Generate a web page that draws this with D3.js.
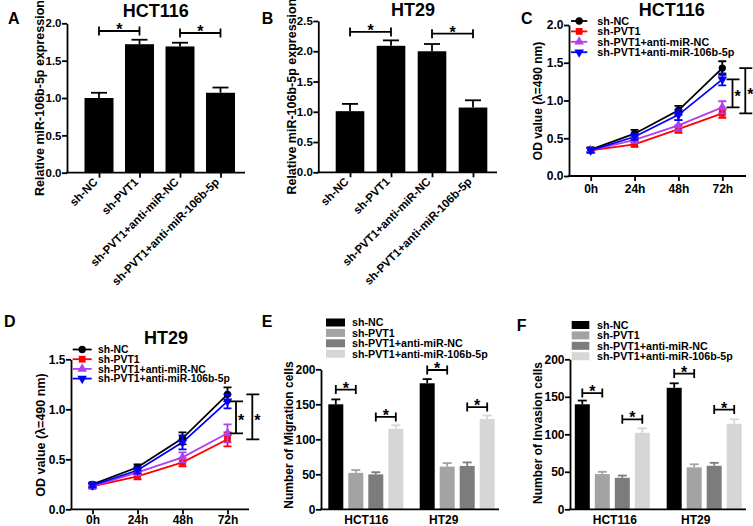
<!DOCTYPE html>
<html><head><meta charset="utf-8">
<script src="https://cdn.jsdelivr.net/npm/d3@7"></script>
<style>
body{margin:0;background:#fff}
svg{display:block}
text{font-family:Arial,"Liberation Sans",sans-serif;font-weight:bold;fill:#000}
</style>
</head><body>
<svg id="fig" width="753" height="526"></svg>
<script>
// ---------------- DATA ----------------
const barCats = ["sh-NC","sh-PVT1","sh-PVT1+anti-miR-NC","sh-PVT1+anti-miR-106b-5p"];
const hctExpr = [1.00, 1.72, 1.69, 1.07];
const hctExprErr = [0.07, 0.06, 0.05, 0.07];
const ht29Expr = [1.01, 2.09, 2.00, 1.07];
const ht29ExprErr = [0.12, 0.09, 0.12, 0.12];
const exprTicksA = [0, 0.5, 1.0, 1.5, 2.0];
const exprTicksB = [0, 0.5, 1.0, 1.5, 2.0, 2.5];

const timePoints = ["0h","24h","48h","72h"];
const hctOD_NC     = [0.35, 0.56, 0.87, 1.43];
const hctOD_NC_err = [0.03, 0.05, 0.06, 0.09];
const hctOD_PVT1     = [0.34, 0.42, 0.62, 0.83];
const hctOD_PVT1_err = [0.03, 0.03, 0.05, 0.06];
const hctOD_aNC     = [0.34, 0.48, 0.67, 0.91];
const hctOD_aNC_err = [0.03, 0.04, 0.07, 0.08];
const hctOD_a106     = [0.34, 0.52, 0.81, 1.28];
const hctOD_a106_err = [0.03, 0.04, 0.07, 0.08];
const odTicksC = [0, 0.5, 1.0, 1.5, 2.0];

const ht29OD_NC     = [0.25, 0.42, 0.71, 1.15];
const ht29OD_NC_err = [0.02, 0.03, 0.06, 0.07];
const ht29OD_PVT1     = [0.23, 0.33, 0.47, 0.70];
const ht29OD_PVT1_err = [0.02, 0.03, 0.04, 0.07];
const ht29OD_aNC     = [0.23, 0.37, 0.52, 0.76];
const ht29OD_aNC_err = [0.02, 0.03, 0.05, 0.09];
const ht29OD_a106     = [0.24, 0.39, 0.67, 1.08];
const ht29OD_a106_err = [0.02, 0.03, 0.07, 0.07];
const odTicksD = [0, 0.5, 1.0, 1.5];

const cellLines = ["HCT116","HT29"];
const migration = {HCT116:[150, 52, 50, 115], HT29:[180, 61, 62, 129]};
const migrationErr = {HCT116:[7, 4, 3, 5], HT29:[6, 5, 5, 5]};
const invasion = {HCT116:[140, 47, 42, 102], HT29:[162, 56, 58, 114]};
const invasionErr = {HCT116:[5, 3, 3, 6], HT29:[6, 4, 4, 6]};
const cellTicks = [0, 50, 100, 150, 200];

const lineColors = ["#000000","#ff0000","#b03ff0","#0000ff"];
const barGrays = ["#000000","#a3a3a3","#7c7c7c","#d6d6d6"];

// ---------------- HELPERS ----------------
const svg = d3.select("#fig");
const FF = 'Arial, "Liberation Sans", sans-serif';
const SW = 1.8;

function yAxis(y, x, ticks, fmt, fs){
  const g = svg.append("g").attr("class","yax").attr("transform",`translate(${x},0)`);
  g.call(d3.axisLeft(y).tickValues(ticks).tickFormat(fmt).tickSize(5).tickSizeOuter(0).tickPadding(0.5));
  g.attr("font-family",FF).attr("font-size",fs).attr("font-weight","bold");
  g.select(".domain").attr("stroke","#000").attr("stroke-width",SW);
  g.selectAll(".tick line").attr("stroke","#000").attr("stroke-width",SW);
  g.selectAll(".tick text").attr("fill","#000").style("fill","#000")
    .style("font-size",fs+"px").attr("text-anchor","end");
  return g;
}
function xAxis(x, x0, x1, yb, fs, pad){
  svg.append("line").attr("x1",x0-SW/2).attr("x2",x1).attr("y1",yb).attr("y2",yb)
    .attr("stroke","#000").attr("stroke-width",SW);
  const g = svg.append("g").attr("class","xax").attr("transform",`translate(0,${yb})`);
  g.call(d3.axisBottom(x).tickSize(5).tickSizeOuter(0).tickPadding(pad));
  g.attr("font-family",FF).attr("font-size",fs).attr("font-weight","bold");
  g.select(".domain").remove();
  g.selectAll(".tick line").attr("stroke","#000").attr("stroke-width",SW);
  g.selectAll(".tick text").attr("fill","#000").style("font-size",fs+"px");
  return g;
}
function txt(x, y, s, fs, anchor, rot){
  const t = svg.append("text").attr("font-size",fs).attr("text-anchor",anchor||"start").text(s);
  if(rot) t.attr("transform",`translate(${x},${y}) rotate(${rot})`);
  else t.attr("x",x).attr("y",y);
  return t;
}
function hbracket(xa, xb, yy, fs){
  svg.append("path").attr("d",`M${xa},${yy-4.5}V${yy+4.5}M${xa},${yy}H${xb}M${xb},${yy-4.5}V${yy+4.5}`)
    .attr("stroke","#000").attr("stroke-width",SW).attr("fill","none");
  txt((xa+xb)/2, yy+4, "*", fs||16, "middle");
}
function vbracket(xx, ya, yb, fs){
  svg.append("path").attr("d",`M${xx-6},${ya}H${xx+7}M${xx},${ya}V${yb}M${xx-6},${yb}H${xx+7}`)
    .attr("stroke","#000").attr("stroke-width",SW).attr("fill","none");
  txt(xx+5, (ya+yb)/2+9, "*", fs||16, "middle");
}

// ---------------- PANEL A/B: bar charts ----------------
function barPanel(o){
  const x = d3.scalePoint().domain(barCats).range(o.xr);
  const y = d3.scaleLinear().domain([0, o.ymax]).range([o.yb, o.yt]);
  const bw = o.bw;
  barCats.forEach((c,i)=>{
    const v = o.vals[i], e = o.errs[i], cx = x(c);
    svg.append("line").attr("x1",cx).attr("x2",cx).attr("y1",y(v)).attr("y2",y(v+e)).attr("stroke","#000").attr("stroke-width",SW);
    svg.append("line").attr("x1",cx-8).attr("x2",cx+8).attr("y1",y(v+e)).attr("y2",y(v+e)).attr("stroke","#000").attr("stroke-width",SW);
    svg.append("rect").attr("x",cx-bw/2).attr("y",y(v)).attr("width",bw).attr("height",y(0)-y(v)).attr("fill","#000");
  });
  txt(o.ylx, (o.yb+o.yt)/2, o.ylabel, 12.5, "middle", -90);
  yAxis(y, o.ax, o.ticks, d3.format(".1f"), 11.5);
  const g = xAxis(x, o.ax, o.axEnd, o.yb, 11.5, 3);
  g.selectAll(".tick text").attr("text-anchor","end").attr("y",0).attr("dy",0)
    .attr("transform","translate(-1,10) rotate(-45)");
  o.sig.forEach(s=>hbracket(x(barCats[s[0]]), x(barCats[s[1]]), y(s[2])));
  txt(o.tx, o.ty, o.title, 18, "middle");
  txt(o.lx, 24, o.letter, 16, "start");
}
barPanel({xr:[99,220.5], ax:67, axEnd:245, yb:172.7, yt:23.3, ymax:2, ticks:exprTicksA, bw:29,
  vals:hctExpr, errs:hctExprErr, sig:[[0,1,1.897],[2,3,1.87]],
  ylx:44, ylabel:"Relative miR-106b-5p expression", title:"HCT116", tx:155.7, ty:17, letter:"A", lx:8});
barPanel({xr:[350,473], ax:318.3, axEnd:497, yb:172.3, yt:21, ymax:2.5, ticks:exprTicksB, bw:28.6,
  vals:ht29Expr, errs:ht29ExprErr, sig:[[0,1,2.32],[2,3,2.29]],
  ylx:295.5, ylabel:"Relative miR-106b-5p expression", title:"HT29", tx:413, ty:16.3, letter:"B", lx:261.7});

// ---------------- PANEL C/D: line charts ----------------
const seriesNames = ["sh-NC","sh-PVT1","sh-PVT1+anti-miR-NC","sh-PVT1+anti-miR-106b-5p"];
const symTypes = [d3.symbolCircle, d3.symbolSquare, d3.symbolTriangle, d3.symbolTriangle];
const symSizes = [42, 46, 40, 40];
const symRot = [0, 0, 0, 180];
function sym(i, cx, cy){
  svg.append("path").attr("d", d3.symbol(symTypes[i], symSizes[i])())
    .attr("transform",`translate(${cx},${cy}) rotate(${symRot[i]})`).attr("fill",lineColors[i]);
}
function linePanel(o){
  const x = d3.scalePoint().domain(timePoints).range(o.xr);
  const y = d3.scaleLinear().domain([0, o.ymax]).range([o.yb, o.yt]);
  txt(o.ylx, o.ylc, "OD value (λ=490 nm)", o.yfs, "middle", -90);
  yAxis(y, o.ax, o.ticks, d3.format(".1f"), o.fs);
  xAxis(x, o.ax, o.axEnd, o.yb, o.fs, o.pad);
  const line = d3.line().x((d,j)=>x(timePoints[j])).y(d=>y(d));
  o.series.forEach((s,i)=>{
    svg.append("path").attr("d",line(s.v)).attr("fill","none").attr("stroke",lineColors[i]).attr("stroke-width",SW);
  });
  o.series.forEach((s,i)=>{
    s.v.forEach((v,j)=>{
      const cx = x(timePoints[j]), e = s.e[j];
      svg.append("path").attr("d",`M${cx},${y(v-e)}V${y(v+e)}M${cx-4},${y(v-e)}H${cx+4}M${cx-4},${y(v+e)}H${cx+4}`)
        .attr("stroke",lineColors[i]).attr("stroke-width",SW).attr("fill","none");
      sym(i, cx, y(v));
    });
  });
  seriesNames.forEach((n,i)=>{
    const ly = o.leg.y0 + i*o.leg.dy;
    svg.append("line").attr("x1",o.leg.x0).attr("x2",o.leg.x1).attr("y1",ly).attr("y2",ly)
      .attr("stroke",lineColors[i]).attr("stroke-width",SW);
    sym(i, (o.leg.x0+o.leg.x1)/2, ly);
    txt(o.leg.tx, ly, n, o.leg.fs, "start").attr("dy","0.36em");
  });
  const last = timePoints.length-1;
  vbracket(o.b1x, y(o.series[3].v[last]), y(o.series[2].v[last]));
  vbracket(o.b2x, y(o.series[0].v[last]), y(o.series[1].v[last]));
  txt(o.tx, o.ty, o.title, 18, "middle");
  txt(o.lx, o.lty, o.letter, 16, "start");
}
linePanel({xr:[590.7,722.3], ax:569, axEnd:746, yb:176, yt:25, ymax:2, ticks:odTicksC, fs:12, pad:3,
  series:[{v:hctOD_NC,e:hctOD_NC_err},{v:hctOD_PVT1,e:hctOD_PVT1_err},{v:hctOD_aNC,e:hctOD_aNC_err},{v:hctOD_a106,e:hctOD_a106_err}],
  leg:{x0:571,x1:587.3,y0:21,dy:10.4,tx:597.3,fs:10.8},
  b1x:732.5, b2x:745.3, ylx:542, ylc:101, yfs:12, title:"HCT116", tx:671.7, ty:16, letter:"C", lx:521, lty:24});
linePanel({xr:[92.5,227.5], ax:71, axEnd:249, yb:509.3, yt:359.3, ymax:1.5, ticks:odTicksD, fs:12, pad:1,
  series:[{v:ht29OD_NC,e:ht29OD_NC_err},{v:ht29OD_PVT1,e:ht29OD_PVT1_err},{v:ht29OD_aNC,e:ht29OD_aNC_err},{v:ht29OD_a106,e:ht29OD_a106_err}],
  leg:{x0:72.7,x1:91.7,y0:349.5,dy:9.7,tx:98,fs:10.4},
  b1x:236, b2x:252.3, ylx:44.5, ylc:435, yfs:12.5, title:"HT29", tx:166, ty:344, letter:"D", lx:4, lty:327.3});

// ---------------- PANEL E/F: grouped bars ----------------
function groupPanel(o){
  const x = d3.scalePoint().domain(cellLines).range(o.xr);
  const y = d3.scaleLinear().domain([0,200]).range([o.yb, o.yt]);
  const step = 20, bw = 15;
  cellLines.forEach(cl=>{
    o.vals[cl].forEach((v,i)=>{
      const cx = x(cl) + (i-1.5)*step, e = o.errs[cl][i];
      svg.append("line").attr("x1",cx).attr("x2",cx).attr("y1",y(v)).attr("y2",y(v+e)).attr("stroke",barGrays[i]).attr("stroke-width",SW);
      svg.append("line").attr("x1",cx-4.5).attr("x2",cx+4.5).attr("y1",y(v+e)).attr("y2",y(v+e)).attr("stroke",barGrays[i]).attr("stroke-width",SW);
      svg.append("rect").attr("x",cx-bw/2).attr("y",y(v)).attr("width",bw).attr("height",y(0)-y(v)).attr("fill",barGrays[i]);
    });
  });
  txt(o.ylx, o.ylc, o.ylabel, 12, "middle", -90);
  yAxis(y, o.ax, cellTicks, d3.format("d"), 12);
  const gx = xAxis(x, o.ax, o.axEnd, o.yb, 12, 1);
  gx.selectAll(".tick line").remove();
  gx.selectAll(".tick text").attr("dx", (d,i)=>o.labShift[i]);
  o.sig.forEach(s=>{
    const c0 = x(s[0]);
    hbracket(c0+(s[1]-1.5)*step, c0+(s[2]-1.5)*step, y(s[3]));
  });
  seriesNames.forEach((n,i)=>{
    const ly = o.leg.y0 + i*o.leg.dy;
    svg.append("rect").attr("x",o.leg.x0).attr("y",ly-4).attr("width",o.leg.w).attr("height",8).attr("fill",barGrays[i]);
    txt(o.leg.tx, ly, n, 10.7, "start").attr("dy","0.36em");
  });
  txt(o.lx, o.lty, o.letter, 16, "start");
}
groupPanel({xr:[365.8,457.2], ax:321, axEnd:499, yb:509.3, yt:369.3, vals:migration, errs:migrationErr,
  sig:[["HCT116",0,1,171],["HCT116",2,3,132],["HT29",0,1,199],["HT29",2,3,146]],
  leg:{x0:326,w:19,y0:322.5,dy:10.4,tx:352}, labShift:[0,-14],
  ylx:293, ylc:435, ylabel:"Number of Migration cells", letter:"E", lx:261.7, lty:327.3});
groupPanel({xr:[612.3,704.2], ax:570, axEnd:746, yb:509.3, yt:359.3, vals:invasion, errs:invasionErr,
  sig:[["HCT116",0,1,155],["HCT116",2,3,120],["HT29",0,1,181],["HT29",2,3,133]],
  leg:{x0:571.7,w:17.6,y0:325,dy:10.4,tx:597}, labShift:[2,-9],
  ylx:542, ylc:433, ylabel:"Number of Invasion cells", letter:"F", lx:516.7, lty:331});
</script>
</body></html>
